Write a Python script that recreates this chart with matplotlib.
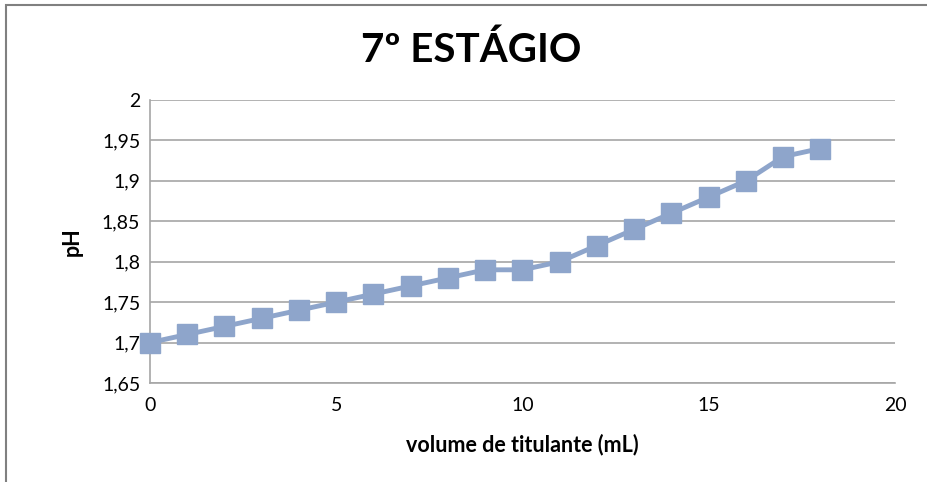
import numpy as np
import matplotlib.pyplot as plt
from matplotlib.ticker import FuncFormatter
from matplotlib.patches import Rectangle

volume = [0, 1, 2, 3, 4, 5, 6, 7, 8, 9, 10, 11, 12, 13, 14, 15, 16, 17, 18]
ph = [1.70, 1.71, 1.72, 1.73, 1.74, 1.75, 1.76, 1.77, 1.78, 1.79, 1.79,
      1.80, 1.82, 1.84, 1.86, 1.88, 1.90, 1.93, 1.94]

plt.rcParams['font.family'] = ['Lato', 'DejaVu Sans']

fig = plt.figure(figsize=(9.28, 4.82), dpi=100)
ax = fig.add_axes([0.1616, 0.2054, 0.8028, 0.5871])

# frame around the chart area
fig.patches.append(Rectangle((0.006, -0.05), 1.2, 1.04, transform=fig.transFigure,
                             fill=False, edgecolor='#808080', lw=1.5))

ax.plot(volume, ph, color='#8EA5CB', lw=3.5, marker='s', markersize=14,
        markeredgecolor='#8EA5CB', zorder=3, clip_on=False)

ax.set_xlim(0, 20)
ax.set_ylim(1.65, 2.0)
ax.set_xticks(np.arange(0, 21, 5))
ax.set_yticks(np.arange(1.65, 2.001, 0.05))

def fmt(v, pos):
    s = ('%.2f' % v).rstrip('0').rstrip('.')
    return s.replace('.', ',')

ax.yaxis.set_major_formatter(FuncFormatter(fmt))
ax.grid(axis='y', color='#A6A6A6', lw=1.2)
ax.set_axisbelow(True)
for s in ['top', 'right']:
    ax.spines[s].set_visible(False)
for s in ['left', 'bottom']:
    ax.spines[s].set_color('#A6A6A6')
    ax.spines[s].set_linewidth(1.2)
ax.tick_params(length=0, labelsize=14, pad=7, colors='black')
ax.tick_params(axis='x', pad=10)

ax.set_xlabel('volume de titulante (mL)', fontsize=15.5, fontweight='bold', labelpad=14)
ax.set_ylabel('pH', fontsize=15.5, fontweight='bold', labelpad=14)
fig.text(0.508, 0.895, '7º ESTÁGIO', ha='center', va='center', fontsize=29,
         fontweight='bold')

fig.savefig('out.png', dpi=100)
